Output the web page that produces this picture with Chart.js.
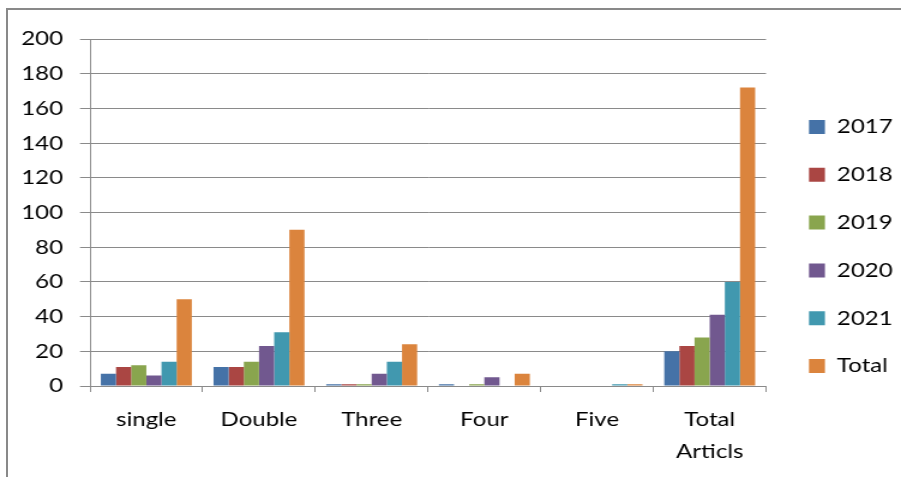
<!DOCTYPE html>
<html>
<head>
<meta charset="utf-8">
<script src="https://cdn.jsdelivr.net/npm/chart.js@4/dist/chart.umd.min.js"></script>
<style>
  html, body { margin: 0; padding: 0; background: #fff; }
  body { width: 901px; height: 477px; position: relative; overflow: hidden; }
  #frame {
    position: absolute; left: 6px; top: 8px; width: 1000px; height: 600px;
    border-left: 2px solid #898989; border-top: 2px solid #898989;
  }
  /* the chart is laid out narrower and widened horizontally */
  #wrap {
    position: absolute; left: 0; top: 0; width: 751px; height: 477px;
    transform: scaleX(1.19973); transform-origin: 0 0;
  }
</style>
</head>
<body>
<div id="frame"></div>
<div id="wrap"><canvas id="c"></canvas></div>
<script>
const categories = ['single', 'Double', 'Three', 'Four', 'Five', ['Total', 'Articls']];
const seriesNames = ['2017', '2018', '2019', '2020', '2021', 'Total'];
const values2017 = [7, 11, 1, 1, 0, 20];
const values2018 = [11, 11, 1, 0, 0, 23];
const values2019 = [12, 14, 1, 1, 0, 28];
const values2020 = [6, 23, 7, 5, 0, 41];
const values2021 = [14, 31, 14, 0, 1, 60];
const valuesTotal = [50, 90, 24, 7, 1, 172];
const yTicks = [0, 20, 40, 60, 80, 100, 120, 140, 160, 180, 200];

const seriesValues = [values2017, values2018, values2019, values2020, values2021, valuesTotal];
const seriesColors = ['#4572A7', '#AA4643', '#89A54E', '#71588F', '#4198AF', '#DB843D'];

const gridGray = '#8a8a8a';
Chart.defaults.font.family = 'Lato';
Chart.defaults.color = '#000';

new Chart(document.getElementById('c'), {
  type: 'bar',
  data: {
    labels: categories,
    datasets: seriesNames.map((name, i) => ({
      label: name,
      data: seriesValues[i],
      backgroundColor: seriesColors[i],
      borderWidth: 0,
      categoryPercentage: 0.807,
      barPercentage: 1
    }))
  },
  options: {
    responsive: true,
    maintainAspectRatio: false,
    animation: false,
    layout: { padding: { top: 16, right: 4.5, bottom: 0, left: 0 } },
    plugins: {
      tooltip: { enabled: false },
      // empty title used only as top spacing above the plot
      title: { display: true, text: '', font: { size: 10, lineHeight: 1 }, padding: { top: 0, bottom: 13 } },
      legend: {
        position: 'right',
        maxWidth: 100,
        labels: {
          boxWidth: 13.3,
          boxHeight: 14,
          padding: 27.8,
          font: { size: 20 },
          color: '#000'
        }
      }
    },
    scales: {
      x: {
        grid: { drawOnChartArea: false, drawTicks: true, tickLength: 6, color: gridGray, offset: true },
        border: { display: true, color: gridGray, width: 1 },
        ticks: { font: { size: 20, lineHeight: 32 / 20 }, padding: 12, maxRotation: 0, autoSkip: false },
        afterFit: s => { s.height = 91; }
      },
      y: {
        min: 0,
        max: 200,
        afterBuildTicks: s => { s.ticks = yTicks.map(v => ({ value: v })); },
        grid: { color: gridGray, lineWidth: 1, drawTicks: true, tickLength: 8.3 },
        border: { display: true, color: gridGray, width: 1 },
        ticks: { font: { size: 20 }, padding: 14.2 },
        afterFit: s => { s.width = 75; }
      },
      gap: {
        type: 'linear',
        position: 'right',
        display: true,
        grid: { display: false, drawTicks: false },
        border: { display: false },
        ticks: { display: false },
        afterFit: s => { s.width = 8; }
      }
    }
  }
});
</script>
</body>
</html>
